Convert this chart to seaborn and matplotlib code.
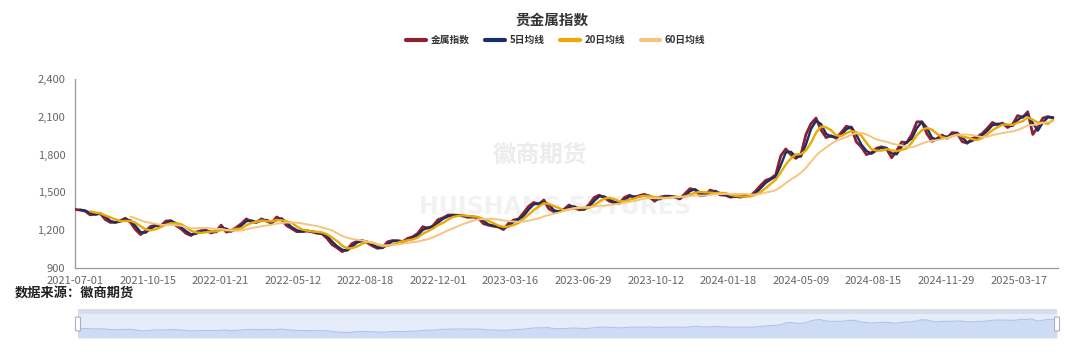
import numpy as np
import pandas as pd
import matplotlib
matplotlib.use("Agg")
import matplotlib.pyplot as plt
import seaborn as sns
from matplotlib.lines import Line2D
from matplotlib.patches import Rectangle, FancyBboxPatch
from matplotlib.ticker import FuncFormatter

# ---------------- data ----------------
title = "贵金属指数"
series_names = ["金属指数", "5日均线", "20日均线", "60日均线"]
tick_labels = ["2021-07-01", "2021-10-15", "2022-01-21", "2022-05-12", "2022-08-18",
               "2022-12-01", "2023-03-16", "2023-06-29", "2023-10-12", "2024-01-18",
               "2024-05-09", "2024-08-15", "2024-11-29", "2025-03-17"]
tick_step_days = 72      # trading days between labelled dates
sample_step_days = 5     # one reading per trading week
y_ticks = [900, 1200, 1500, 1800, 2100, 2400]

# weekly readings of the precious-metal index
index_values = [
    1365, 1360, 1352, 1322, 1327, 1334, 1285, 1262, 1262, 1275,
    1295, 1262, 1205, 1165, 1195, 1230, 1240, 1232, 1272, 1276,
    1238, 1212, 1175, 1158, 1185, 1196, 1198, 1178, 1192, 1240,
    1185, 1195, 1222, 1252, 1290, 1265, 1262, 1290, 1272, 1256,
    1305, 1282, 1236, 1212, 1188, 1190, 1196, 1186, 1176, 1172,
    1135, 1085, 1060, 1030, 1048, 1095, 1112, 1118, 1100, 1075,
    1056, 1062, 1108, 1118, 1115, 1110, 1135, 1148, 1175, 1228,
    1215, 1235, 1283, 1298, 1320, 1320, 1318, 1312, 1302, 1306,
    1298, 1252, 1240, 1232, 1225, 1205, 1255, 1280, 1290, 1338,
    1390, 1420, 1405, 1440, 1370, 1347, 1348, 1365, 1400, 1378,
    1362, 1366, 1405, 1460, 1478, 1458, 1430, 1418, 1413, 1460,
    1478, 1458, 1475, 1485, 1462, 1430, 1462, 1470, 1470, 1462,
    1448, 1490, 1530, 1520, 1475, 1480, 1518, 1505, 1480, 1478,
    1462, 1468, 1462, 1478, 1472, 1510, 1555, 1595, 1610, 1640,
    1790, 1845, 1800, 1770, 1800, 1960, 2045, 2090, 1995, 1935,
    1950, 1930, 1975, 2025, 2015, 1900, 1860, 1800, 1815, 1850,
    1862, 1845, 1775, 1830, 1900, 1895, 1960, 2060, 2060, 1965,
    1905, 1928, 1955, 1930, 1975, 1970, 1903, 1890, 1928, 1942,
    1968, 2010, 2055, 2035, 2050, 2015, 2040, 2110, 2095, 2140,
    1960, 2020, 2090, 2102, 2090,
]

colors = ["#8E1F2F", "#1B2F66", "#EEA800", "#F6C47E"]
widths = [2.0, 1.7, 1.7, 1.4]

# ---------------- derived frame ----------------
days = np.arange(len(index_values)) * sample_step_days
s = pd.Series(index_values, index=days, dtype=float)
df = pd.DataFrame({
    "day": days,
    series_names[0]: s.values,
    series_names[1]: s.rolling(2).mean().values,
    series_names[2]: s.rolling(4).mean().values,
    series_names[3]: s.rolling(12).mean().values,
})
last_day = days[-1]

# ---------------- figure ----------------
sns.set_style("white")
plt.rcParams['font.family'] = ['Noto Sans CJK SC', 'DejaVu Sans']

W, H = 1080, 352
fig = plt.figure(figsize=(W / 100, H / 100), dpi=100)
fig.patch.set_facecolor("white")

def fx(px):
    return px / W

def fy(py):
    return 1 - py / H

ax = fig.add_axes([fx(75), fy(268), fx(1058 - 75), (268 - 79) / H])
ax.set_facecolor("none")

# watermarks (very faint, behind the lines)
ax.text(fx(540), fy(155), "徽商期货", fontsize=17, color="#ECECEC",
        ha="center", va="center", zorder=0, fontweight="bold",
        transform=fig.transFigure)
ax.text(fx(555), fy(207), "HUISHANG FUTURES", fontsize=17, color="#F2F2F2",
        ha="center", va="center", zorder=0, fontweight="bold",
        family=["DejaVu Sans"], transform=fig.transFigure)

for name, c, lw in zip(series_names, colors, widths):
    sns.lineplot(data=df, x="day", y=name, ax=ax, color=c, linewidth=lw,
                 legend=False, zorder=3)

ax.set_xlim(0, 975)
ax.set_ylim(900, 2400)
ax.set_xlabel("")
ax.set_ylabel("")
tick_pos = np.arange(len(tick_labels)) * tick_step_days
ax.set_xticks(tick_pos)
ax.set_xticklabels(tick_labels)
ax.set_yticks(y_ticks)
ax.yaxis.set_major_formatter(FuncFormatter(lambda v, p: f"{int(v):,}"))
for sp in ["top", "right"]:
    ax.spines[sp].set_visible(False)
for sp in ["left", "bottom"]:
    ax.spines[sp].set_color("#9A9A9A")
    ax.spines[sp].set_linewidth(0.9)
ax.tick_params(axis="both", which="both", direction="out", length=4,
               width=0.8, color="#9A9A9A", labelsize=8, labelcolor="#666666")
ax.tick_params(axis="y", pad=3)
ax.tick_params(axis="x", pad=2)
ax.grid(False)

# title + legend
fig.text(fx(552), fy(20), title, fontsize=10.5, fontweight="bold",
         color="#333333", ha="center", va="center")
handles = [Line2D([0], [0], color=c, lw=3) for c in colors]
leg = fig.legend(handles, series_names, loc="center", ncol=4,
                 bbox_to_anchor=(fx(556), fy(40)), frameon=False,
                 handlelength=2.0, handletextpad=0.5,
                 columnspacing=1.6, prop={"weight": "bold", "size": 7})
for t in leg.get_texts():
    t.set_color("#333333")

# source note
fig.text(fx(15), fy(293), "数据来源：徽商期货", fontsize=9.5, fontweight="bold",
         color="#222222", ha="left", va="center")

# ---------------- data-zoom slider ----------------
sx0, sx1, sy0, sy1 = 78, 1057, 309, 338
bg = fig.add_axes([fx(sx0), fy(sy1), fx(sx1 - sx0), (sy1 - sy0) / H])
bg.set_xlim(0, 1)
bg.set_ylim(0, 1)
bg.axis("off")
bg.add_patch(Rectangle((0, 0), 1, 1, facecolor="#E6ECFA", edgecolor="#D3D9E4",
                       linewidth=0.8))
bg.add_patch(Rectangle((0, 1 - 4.5 / 29), 1, 4.5 / 29, facecolor="#D8DEE9",
                       edgecolor="none"))

mini = fig.add_axes([fx(sx0), fy(sy1), fx(sx1 - sx0), (sy1 - 313.5) / H])
mini.set_facecolor("none")
sns.lineplot(data=df, x="day", y=series_names[0], ax=mini, color="#AFC3EC",
             linewidth=0.8, legend=False)
mini.fill_between(df["day"], 583, df[series_names[0]], color="#CCDAF5",
                  alpha=0.9, linewidth=0)
mini.set_xlim(0, last_day)
mini.set_ylim(583, 2580)
mini.axis("off")

for hx in (sx0, sx1):
    fig.patches.append(FancyBboxPatch((fx(hx - 2.5), fy(331)), fx(5), 14 / H,
                                      boxstyle="round,pad=0,rounding_size=0.002",
                                      transform=fig.transFigure,
                                      facecolor="white", edgecolor="#A8B0BF",
                                      linewidth=0.8, zorder=5))

fig.savefig("out.png", dpi=100)
